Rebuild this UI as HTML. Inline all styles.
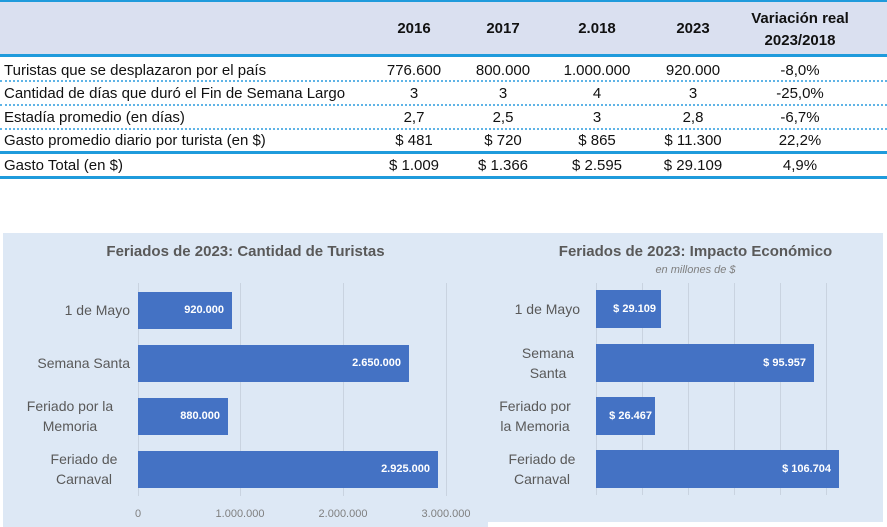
<!DOCTYPE html>
<html><head><meta charset="utf-8"><style>
body{margin:0;width:887px;height:527px;background:#fff;position:relative;overflow:hidden;font-family:"Liberation Sans",sans-serif;color:#111}
.a{position:absolute;white-space:nowrap}
.r{font-size:15px;line-height:24px;height:24px}
.c{text-align:center;width:100px}
.hl{position:absolute;left:0;width:887px}
.bar{position:absolute;background:#4472c4;color:#fff;font-weight:bold;font-size:11px;text-align:right;box-sizing:border-box;padding-right:8px}
.lab{position:absolute;color:#595959;font-size:14px;text-align:center;line-height:20px}
.grid{position:absolute;width:1px;background:#c9d3e0}
.tk{position:absolute;color:#7f7f7f;font-size:11px;width:80px;text-align:center}
</style></head><body>
<div class="hl" style="top:0;height:2px;background:#1f9bdc"></div>
<div class="hl" style="top:2px;height:52px;background:#dae0f0"></div>
<div class="hl" style="top:54px;height:3px;background:#1f9bdc"></div>
<div class="a" style="left:364px;top:20px;width:100px;text-align:center;font-weight:bold;font-size:15px">2016</div>
<div class="a" style="left:453px;top:20px;width:100px;text-align:center;font-weight:bold;font-size:15px">2017</div>
<div class="a" style="left:547px;top:20px;width:100px;text-align:center;font-weight:bold;font-size:15px">2.018</div>
<div class="a" style="left:643px;top:20px;width:100px;text-align:center;font-weight:bold;font-size:15px">2023</div>
<div class="a" style="left:740px;top:8px;width:120px;text-align:center;font-weight:bold;font-size:15px;line-height:22px">Variación real<br>2023/2018</div>

<div class="hl" style="top:80px;border-top:2px dotted #5fb4e6"></div>
<div class="hl" style="top:104px;border-top:2px dotted #5fb4e6"></div>
<div class="hl" style="top:128px;border-top:2px dotted #5fb4e6"></div>
<div class="hl" style="top:151px;height:3px;background:#1f9bdc"></div>
<div class="hl" style="top:176px;height:3px;background:#1f9bdc"></div>

<div class="a r" style="left:4px;top:59px">Turistas que se desplazaron por el país</div>
<div class="a r" style="left:4px;top:82px">Cantidad de días que duró el Fin de Semana Largo</div>
<div class="a r" style="left:4px;top:106px">Estadía promedio (en días)</div>
<div class="a r" style="left:4px;top:129px">Gasto promedio diario por turista (en $)</div>
<div class="a r" style="left:4px;top:154px">Gasto Total (en $)</div>

<div class="a r c" style="left:364px;top:59px">776.600</div><div class="a r c" style="left:453px;top:59px">800.000</div><div class="a r c" style="left:547px;top:59px">1.000.000</div><div class="a r c" style="left:643px;top:59px">920.000</div><div class="a r c" style="left:750px;top:59px">-8,0%</div>
<div class="a r c" style="left:364px;top:82px">3</div><div class="a r c" style="left:453px;top:82px">3</div><div class="a r c" style="left:547px;top:82px">4</div><div class="a r c" style="left:643px;top:82px">3</div><div class="a r c" style="left:750px;top:82px">-25,0%</div>
<div class="a r c" style="left:364px;top:106px">2,7</div><div class="a r c" style="left:453px;top:106px">2,5</div><div class="a r c" style="left:547px;top:106px">3</div><div class="a r c" style="left:643px;top:106px">2,8</div><div class="a r c" style="left:750px;top:106px">-6,7%</div>
<div class="a r c" style="left:364px;top:129px">$ 481</div><div class="a r c" style="left:453px;top:129px">$ 720</div><div class="a r c" style="left:547px;top:129px">$ 865</div><div class="a r c" style="left:643px;top:129px">$ 11.300</div><div class="a r c" style="left:750px;top:129px">22,2%</div>
<div class="a r c" style="left:364px;top:154px">$ 1.009</div><div class="a r c" style="left:453px;top:154px">$ 1.366</div><div class="a r c" style="left:547px;top:154px">$ 2.595</div><div class="a r c" style="left:643px;top:154px">$ 29.109</div><div class="a r c" style="left:750px;top:154px">4,9%</div>

<!-- left chart -->
<div class="a" style="left:3px;top:233px;width:485px;height:294px;background:#dde8f5"></div>
<div class="a" style="left:3px;top:243px;width:485px;text-align:center;font-weight:bold;font-size:15px;color:#595959">Feriados de 2023: Cantidad de Turistas</div>
<div class="grid" style="left:138px;top:283px;height:213px"></div>
<div class="grid" style="left:240px;top:283px;height:213px"></div>
<div class="grid" style="left:343px;top:283px;height:213px"></div>
<div class="grid" style="left:446px;top:283px;height:213px"></div>
<div class="bar" style="left:138px;top:292px;width:94px;height:37px;line-height:37px">920.000</div>
<div class="bar" style="left:138px;top:345px;width:271px;height:37px;line-height:37px">2.650.000</div>
<div class="bar" style="left:138px;top:398px;width:90px;height:37px;line-height:37px">880.000</div>
<div class="bar" style="left:138px;top:451px;width:300px;height:37px;line-height:37px">2.925.000</div>
<div class="lab" style="left:10px;top:300px;width:120px;text-align:right">1 de Mayo</div>
<div class="lab" style="left:10px;top:353px;width:120px;text-align:right">Semana Santa</div>
<div class="lab" style="left:10px;top:396px;width:120px">Feriado por la<br>Memoria</div>
<div class="lab" style="left:24px;top:449px;width:120px">Feriado de<br>Carnaval</div>
<div class="tk" style="left:98px;top:508px">0</div>
<div class="tk" style="left:200px;top:508px">1.000.000</div>
<div class="tk" style="left:303px;top:508px">2.000.000</div>
<div class="tk" style="left:406px;top:508px">3.000.000</div>

<!-- right chart -->
<div class="a" style="left:488px;top:233px;width:395px;height:289px;background:#dde8f5"></div>
<div class="a" style="left:488px;top:243px;width:395px;text-align:center;font-weight:bold;font-size:15px;color:#595959;padding-left:20px;box-sizing:border-box">Feriados de 2023: Impacto Económico</div>
<div class="a" style="left:488px;top:264px;width:395px;text-align:center;font-style:italic;font-size:11px;color:#7f7f7f;padding-left:20px;box-sizing:border-box">en millones de $</div>
<div class="grid" style="left:596px;top:283px;height:212px"></div>
<div class="grid" style="left:642px;top:283px;height:212px"></div>
<div class="grid" style="left:688px;top:283px;height:212px"></div>
<div class="grid" style="left:734px;top:283px;height:212px"></div>
<div class="grid" style="left:780px;top:283px;height:212px"></div>
<div class="grid" style="left:826px;top:283px;height:212px"></div>
<div class="bar" style="left:596px;top:290px;width:65px;height:38px;line-height:38px;padding-right:5px">$ 29.109</div>
<div class="bar" style="left:596px;top:344px;width:218px;height:38px;line-height:38px">$ 95.957</div>
<div class="bar" style="left:596px;top:397px;width:59px;height:38px;line-height:38px;padding-right:3px">$ 26.467</div>
<div class="bar" style="left:596px;top:450px;width:243px;height:38px;line-height:38px">$ 106.704</div>
<div class="lab" style="left:480px;top:299px;width:100px;text-align:right">1 de Mayo</div>
<div class="lab" style="left:503px;top:343px;width:90px">Semana<br>Santa</div>
<div class="lab" style="left:490px;top:396px;width:90px">Feriado por<br>la Memoria</div>
<div class="lab" style="left:497px;top:449px;width:90px">Feriado de<br>Carnaval</div>
</body></html>
